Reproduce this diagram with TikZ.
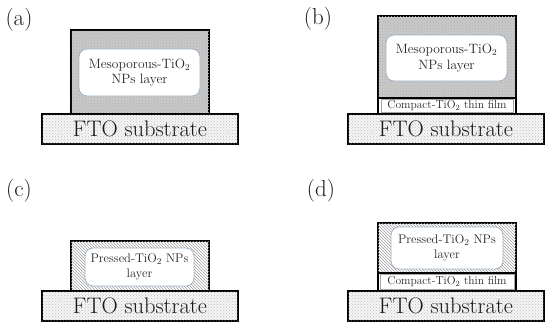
\documentclass[tikz,border=0pt]{standalone}
\usetikzlibrary{patterns}
\definecolor{inedge}{RGB}{160,178,198}
\begin{document}
\begin{tikzpicture}[x=1pt,y=-1pt,
  layer/.style={draw=black, line width=1.3pt, inner sep=0pt, anchor=center},
  fto/.style={layer, fill=gray!8, postaction={pattern=crosshatch dots, pattern color=gray!50},
    font=\fontsize{22.5}{24}\selectfont, text=black!90},
  meso/.style={layer, fill=gray!42, postaction={pattern=crosshatch dots, pattern color=gray!62}},
  pressed/.style={layer, fill=white, postaction={pattern=north west lines, pattern color=gray!75}},
  compact/.style={layer, fill=white},
  compin/.style={draw=gray!70, line width=0.5pt, fill=white, inner sep=0pt,
    font=\fontsize{11.5}{13}\selectfont, text=black!85},
  inbox/.style={draw=inedge, line width=0.8pt, fill=white, rounded corners=8pt,
    inner sep=0pt, align=center, text=black!85},
  tag/.style={font=\fontsize{23}{25}\selectfont, text=black!90}
]
\useasboundingbox (0,0) rectangle (550,330);

% ---------- (a)
\node[tag] (la) at (19,20) {(a)};
\node[meso, minimum width=138pt, minimum height=84pt] (ameso) at (139.9,72) {};
\node[inbox, minimum width=121pt, minimum height=47pt, font=\fontsize{13.5}{15.5}\selectfont] (ain) at (139.5,72.5) {Mesoporous-TiO$_2$\\NPs layer};
\node[fto, minimum width=196pt, minimum height=30pt] (afto) at (140,129) {FTO substrate};

% ---------- (b)
\node[tag] (lb) at (318,19) {(b)};
\node[meso, minimum width=138pt, minimum height=82pt] (bmeso) at (447,57) {};
\node[inbox, minimum width=121pt, minimum height=46pt, font=\fontsize{13.5}{15.5}\selectfont] (bin) at (446.5,58) {Mesoporous-TiO$_2$\\NPs layer};
\node[compact, minimum width=138pt, minimum height=16pt] (bcomp) at (447,106) {};
\node[compin, minimum width=132pt, minimum height=13pt] (bcompin) at (447,106) {Compact-TiO$_2$ thin film};
\node[fto, minimum width=196pt, minimum height=30pt] (bfto) at (446,129) {FTO substrate};

% ---------- (c)
\node[tag] (lc) at (19,191) {(c)};
\node[pressed, minimum width=138pt, minimum height=50pt] (cpr) at (140,266) {};
\node[inbox, minimum width=109pt, minimum height=38pt, font=\fontsize{12.5}{14.5}\selectfont] (cin) at (139.5,267) {Pressed-TiO$_2$ NPs\\layer};
\node[fto, minimum width=196pt, minimum height=30pt] (cfto) at (140,306) {FTO substrate};

% ---------- (d)
\node[tag] (ld) at (321,191) {(d)};
\node[pressed, minimum width=138pt, minimum height=50pt] (dpr) at (447,248) {};
\node[inbox, minimum width=112pt, minimum height=42pt, font=\fontsize{12.5}{14.5}\selectfont] (din) at (447,248) {Pressed-TiO$_2$ NPs\\layer};
\node[compact, minimum width=138pt, minimum height=18pt] (dcomp) at (447,282) {};
\node[compin, minimum width=134pt, minimum height=15pt] (dcompin) at (447,282) {Compact-TiO$_2$ thin film};
\node[fto, minimum width=196pt, minimum height=30pt] (dfto) at (446,306) {FTO substrate};
\end{tikzpicture}
\end{document}
